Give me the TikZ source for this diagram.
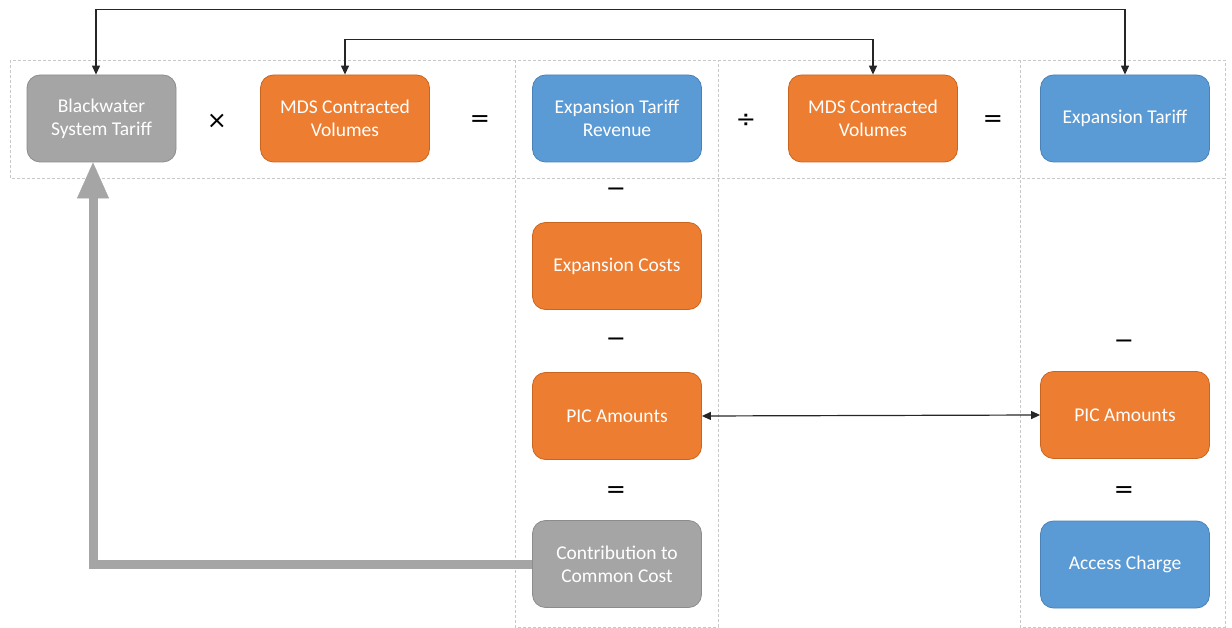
\documentclass[tikz,border=0pt]{standalone}
\usepackage{fontspec}
\setmainfont{Carlito}
\newfontfamily\opfont{DejaVu Sans}
\usetikzlibrary{arrows.meta}
\definecolor{cOrange}{HTML}{ED7D31}
\definecolor{cOrangeB}{HTML}{C9651F}
\definecolor{cBlue}{HTML}{5B9BD5}
\definecolor{cBlueB}{HTML}{4A82B8}
\definecolor{cGray}{HTML}{A5A5A5}
\definecolor{cGrayB}{HTML}{8C8C8C}
\definecolor{cGrid}{HTML}{C8C8C8}
\tikzset{
  box/.style={rounded corners=13pt, minimum width=169pt, minimum height=87pt,
    align=center, text=white, font=\fontsize{19.5}{23}\selectfont, line width=0.8pt, inner sep=2pt},
  obox/.style={box, fill=cOrange, draw=cOrangeB},
  bbox/.style={box, fill=cBlue, draw=cBlueB},
  gbox/.style={box, fill=cGray, draw=cGrayB},
  op/.style={font=\opfont\fontsize{24}{24}\selectfont, text=black, inner sep=0pt},
  gridline/.style={draw=cGrid, line width=0.8pt, dash pattern=on 3pt off 2pt},
  conn/.style={draw=black!85, line width=1.2pt, {Triangle[length=9pt,width=8pt]}-{Triangle[length=9pt,width=8pt]}},
  bigarrow/.style={draw=cGray, line width=9pt, -{Triangle[length=36pt,width=32pt,line width=0.5pt]}}
}
\begin{document}
\begin{tikzpicture}[x=1pt,y=-1pt]
\useasboundingbox (0,0) rectangle (1232,628);
% grid
\draw[gridline] (10,60) rectangle (1225,178);
\draw[gridline] (515,60) -- (515,627) -- (718,627) -- (718,60);
\draw[gridline] (1020,60) -- (1020,627) -- (1225,627) -- (1225,178);
% boxes
\node[gbox, minimum width=149pt] (bw) at (101.5,118.5) {Blackwater\\System Tariff};
\node[obox] (mds1) at (345,118.5) {MDS Contracted\\Volumes};
\node[bbox] (etr) at (617,118.5) {Expansion Tariff\\Revenue};
\node[obox] (mds2) at (873,118.5) {MDS Contracted\\Volumes};
\node[bbox] (et) at (1125,118.5) {Expansion Tariff};
\node[obox] (ec) at (617,266) {Expansion Costs};
\node[obox] (pic1) at (617,416) {PIC Amounts};
\node[gbox] (ccc) at (617,564) {Contribution to\\Common Cost};
\node[obox] (pic2) at (1125,415) {PIC Amounts};
\node[bbox] (ac) at (1125,564.5) {Access Charge};
% operators
\node[op] (o1) at (217,121) {×};
\node[op] (o2) at (480,121) {=};
\node[op] (o3) at (746,121) {÷};
\node[op] (o4) at (993,121) {=};
\node[op] (o5) at (616,192) {−};
\node[op] (o6) at (616,342) {−};
\node[op] (o7) at (1124,344) {−};
\node[op] (o8) at (616,492) {=};
\node[op] (o9) at (1124,492) {=};
% connectors
\draw[conn] ([xshift=-5.5pt]bw.north) -- ++(0,-65) -| (et.north);
\draw[conn] (mds1.north) -- ++(0,-35) -| (mds2.north);
\draw[conn] (pic1.east) -- (pic2.west);
\draw[bigarrow] (ccc.west) -| ([xshift=-8.5pt]bw.south);
\end{tikzpicture}
\end{document}
